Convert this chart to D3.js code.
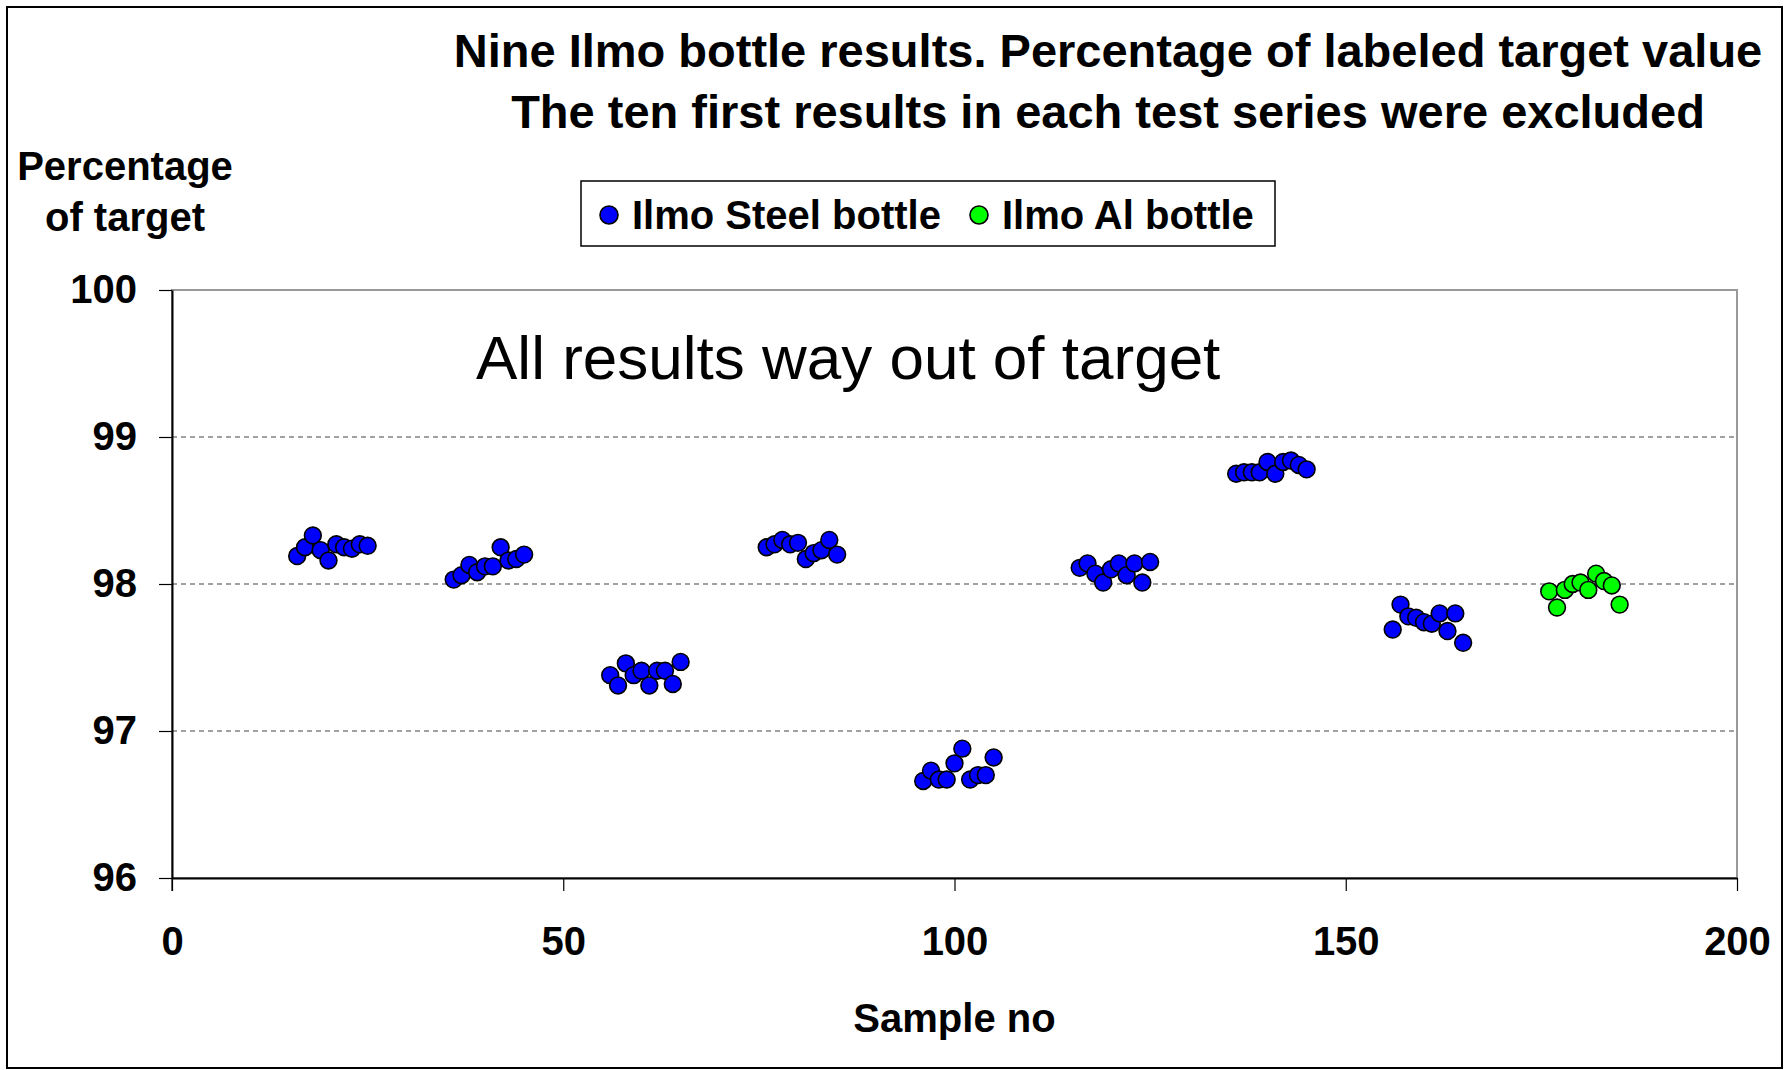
<!DOCTYPE html>
<html>
<head>
<meta charset="utf-8">
<script src="https://cdn.jsdelivr.net/npm/d3@7"></script>
<style>
  body { margin: 0; background: #fff; }
  svg { display: block; font-family: "Liberation Sans", Arial, sans-serif; }
</style>
</head>
<body>
<div id="chart"></div>
<script>
// Daten: Probennummer und Prozent vom Sollwert
const steelSamples = [
  16, 17, 18, 19, 20, 21, 22, 23, 24, 25,
  36, 37, 38, 39, 40, 41, 42, 43, 44, 45,
  56, 57, 58, 59, 60, 61, 62, 63, 64, 65,
  76, 77, 78, 79, 80, 81, 82, 83, 84, 85,
  96, 97, 98, 99, 100, 101, 102, 103, 104, 105,
  116, 117, 118, 119, 120, 121, 122, 123, 124, 125,
  136, 137, 138, 139, 140, 141, 142, 143, 144, 145,
  156, 157, 158, 159, 160, 161, 162, 163, 164, 165
];
const steelValues = [
  98.19, 98.25, 98.33, 98.23, 98.16, 98.27, 98.25, 98.24, 98.27, 98.26,
  98.03, 98.06, 98.13, 98.08, 98.12, 98.12, 98.25, 98.16, 98.17, 98.20,
  97.38, 97.31, 97.46, 97.38, 97.41, 97.31, 97.41, 97.41, 97.32, 97.47,
  98.25, 98.27, 98.30, 98.27, 98.28, 98.17, 98.21, 98.23, 98.30, 98.20,
  96.66, 96.73, 96.67, 96.67, 96.78, 96.88, 96.67, 96.70, 96.70, 96.82,
  98.11, 98.14, 98.07, 98.01, 98.10, 98.14, 98.06, 98.14, 98.01, 98.15,
  98.75, 98.76, 98.76, 98.76, 98.83, 98.75, 98.83, 98.84, 98.81, 98.78,
  97.69, 97.86, 97.78, 97.77, 97.74, 97.73, 97.80, 97.68, 97.80, 97.60
];
const alSamples = [176, 177, 178, 179, 180, 181, 182, 183, 184, 185];
const alValues = [97.95, 97.84, 97.96, 98.00, 98.01, 97.96, 98.07, 98.02, 97.99, 97.86];

const xTicks = [0, 50, 100, 150, 200];
const yTicks = [96, 97, 98, 99, 100];
const gridValues = [97, 98, 99];

const titleLines = [
  "Nine Ilmo bottle results. Percentage of labeled target value",
  "The ten first results in each test series were excluded"
];
const seriesNames = ["Ilmo Steel bottle", "Ilmo Al bottle"];
const seriesColors = ["#0000ff", "#00ff00"];

const drawChart = () => {
  const width = 1784;
  const height = 1070;
  const margin = {top: 290, right: 47, bottom: 192, left: 172};
  const innerWidth = width - margin.left - margin.right;
  const innerHeight = height - margin.top - margin.bottom;

  const svg = d3.select("#chart")
    .append("svg")
    .attr("width", width)
    .attr("height", height);

  // Rahmen um die ganze Grafik
  svg.append("rect")
    .attr("x", 7).attr("y", 7)
    .attr("width", width - 9).attr("height", height - 9)
    .attr("fill", "none")
    .attr("stroke", "#000")
    .attr("stroke-width", 2);

  const innerChart = svg.append("g")
    .attr("transform", `translate(${margin.left}, ${margin.top})`);

  const xScale = d3.scaleLinear().domain([0, 200]).range([0, innerWidth]);
  const yScale = d3.scaleLinear().domain([96, 100]).range([innerHeight, 0]);

  // Plotbereich (grauer Rand oben/rechts)
  innerChart.append("rect")
    .attr("width", innerWidth)
    .attr("height", innerHeight)
    .attr("fill", "none")
    .attr("stroke", "#999")
    .attr("stroke-width", 2);

  // gestrichelte Gitterlinien
  innerChart.selectAll(".grid")
    .data(gridValues)
    .join("line")
    .attr("class", "grid")
    .attr("x1", 0)
    .attr("x2", innerWidth)
    .attr("y1", d => yScale(d))
    .attr("y2", d => yScale(d))
    .attr("stroke", "#444")
    .attr("stroke-width", 1.2)
    .attr("stroke-dasharray", "5,4");

  // Achsen
  const bottomAxis = d3.axisBottom(xScale)
    .tickValues(xTicks)
    .tickFormat(d3.format("d"))
    .tickSize(13)
    .tickSizeOuter(0)
    .tickPadding(36);
  const xAxis = innerChart.append("g")
    .attr("transform", `translate(0, ${innerHeight})`)
    .call(bottomAxis);

  const leftAxis = d3.axisLeft(yScale)
    .tickValues(yTicks)
    .tickFormat(d3.format("d"))
    .tickSize(13)
    .tickSizeOuter(0)
    .tickPadding(22);
  const yAxis = innerChart.append("g").call(leftAxis);

  [xAxis, yAxis].forEach(ax => {
    ax.select(".domain").attr("stroke", "#000").attr("stroke-width", 2);
    ax.selectAll(".tick line").attr("stroke", "#000").attr("stroke-width", 1.2);
    ax.selectAll(".tick text")
      .attr("fill", "#000")
      .style("font-size", "40px")
      .style("font-weight", "bold")
      .style("font-family", "'Liberation Sans', Arial, sans-serif");
  });
  // Linke Achse bis zum unteren Tick verlängern
  yAxis.append("line")
    .attr("x1", 0).attr("x2", 0)
    .attr("y1", innerHeight).attr("y2", innerHeight + 13)
    .attr("stroke", "#000").attr("stroke-width", 1.2);

  // Punkte
  const steel = steelSamples.map((s, i) => ({x: s, y: steelValues[i]}));
  const al = alSamples.map((s, i) => ({x: s, y: alValues[i]}));

  innerChart.selectAll(".steel")
    .data(steel)
    .join("circle")
    .attr("class", "steel")
    .attr("cx", d => xScale(d.x))
    .attr("cy", d => yScale(d.y))
    .attr("r", 8.4)
    .attr("fill", seriesColors[0])
    .attr("stroke", "#000")
    .attr("stroke-width", 1.6);

  innerChart.selectAll(".al")
    .data(al)
    .join("circle")
    .attr("class", "al")
    .attr("cx", d => xScale(d.x))
    .attr("cy", d => yScale(d.y))
    .attr("r", 8.4)
    .attr("fill", seriesColors[1])
    .attr("stroke", "#000")
    .attr("stroke-width", 1.6);

  // Annotation
  svg.append("text")
    .text("All results way out of target")
    .attr("x", 476)
    .attr("y", 379)
    .style("font-size", "62px");

  // Titel
  svg.selectAll(".title")
    .data(titleLines)
    .join("text")
    .attr("class", "title")
    .text(d => d)
    .attr("x", 1108)
    .attr("y", (d, i) => 67 + i * 61)
    .attr("text-anchor", "middle")
    .style("font-size", "47px")
    .style("font-weight", "bold");

  // Achsentitel
  svg.selectAll(".ylabel")
    .data(["Percentage", "of target"])
    .join("text")
    .attr("class", "ylabel")
    .text(d => d)
    .attr("x", 125)
    .attr("y", (d, i) => 180 + i * 51)
    .attr("text-anchor", "middle")
    .style("font-size", "40px")
    .style("font-weight", "bold");

  svg.append("text")
    .text("Sample no")
    .attr("x", margin.left + xScale(100))
    .attr("y", 1032)
    .attr("text-anchor", "middle")
    .style("font-size", "40px")
    .style("font-weight", "bold");

  // Legende
  const legend = svg.append("g");
  legend.append("rect")
    .attr("x", 581).attr("y", 181)
    .attr("width", 694).attr("height", 65)
    .attr("fill", "#fff")
    .attr("stroke", "#000")
    .attr("stroke-width", 1.5);
  const legendX = [609, 979];
  const items = legend.selectAll(".item")
    .data(seriesNames)
    .join("g")
    .attr("class", "item")
    .attr("transform", (d, i) => `translate(${legendX[i]}, 215)`);
  items.append("circle")
    .attr("r", 9)
    .attr("fill", (d, i) => seriesColors[i])
    .attr("stroke", "#000")
    .attr("stroke-width", 1.6);
  items.append("text")
    .text(d => d)
    .attr("x", 23)
    .attr("y", 14)
    .style("font-size", "40px")
    .style("font-weight", "bold");
};

drawChart();
</script>
</body>
</html>
